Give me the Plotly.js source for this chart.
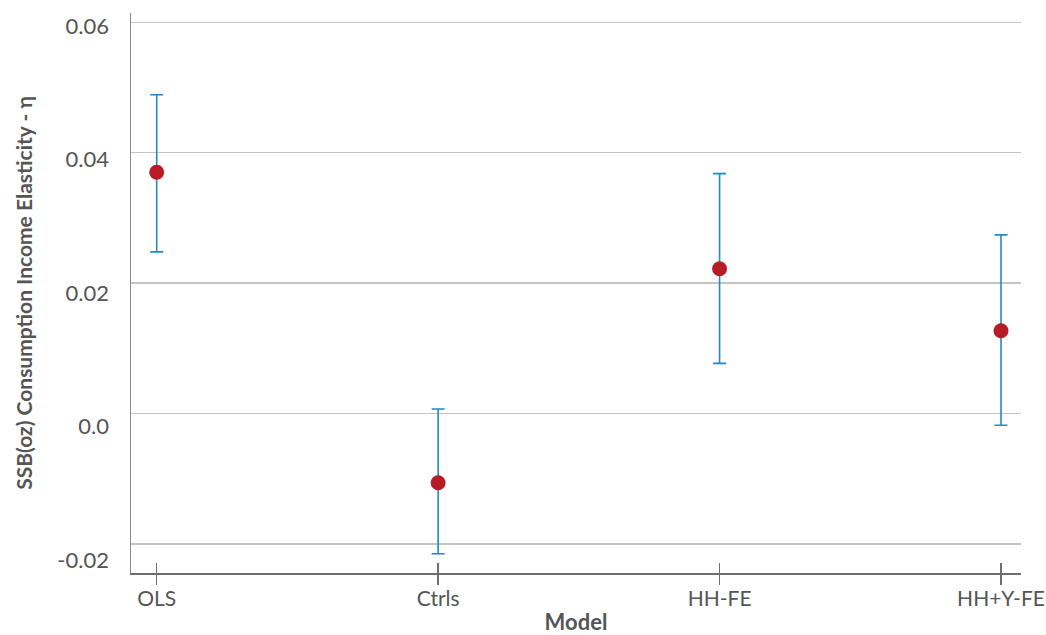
<!DOCTYPE html>
<html>
<head>
<meta charset="utf-8">
<script src="https://cdn.plot.ly/plotly-3.0.1.min.js"></script>
<style>html,body{margin:0;padding:0;background:#fff;}#chart{width:1046px;height:635px;}</style>
</head>
<body>
<div id="chart"></div>
<script>
// Data
const models = ["OLS", "Ctrls", "HH-FE", "HH+Y-FE"];
const estimate = [0.0370, -0.0106, 0.0222, 0.0127];
const upper = [0.0489, 0.0007, 0.0368, 0.0274];
const lower = [0.0248, -0.0215, 0.0077, -0.0018];
const yTickVals = [-0.02, 0.0, 0.02, 0.04, 0.06];
const yTickText = ["-0.02", "0.0", "0.02", "0.04", "0.06"];

const errPlus = upper.map((u, i) => u - estimate[i]);
const errMinus = estimate.map((e, i) => e - lower[i]);

const FONT = "Lato, 'Open Sans', sans-serif";
const TXT = "#555555";

const traces = [
  {
    type: "scatter", mode: "markers",
    x: models, y: estimate,
    marker: {color: "#b71c26", size: 15},
    error_y: {type: "data", symmetric: false, array: errPlus, arrayminus: errMinus,
              color: "#2289c9", thickness: 1.6, width: 6.5},
    hoverinfo: "x+y", showlegend: false
  },
  {
    type: "scatter", mode: "markers",
    x: models, y: estimate, xaxis: "x2", yaxis: "y2",
    marker: {opacity: 0}, hoverinfo: "skip", showlegend: false
  }
];

const xRange = [-0.0913, 3.071];

const layout = {
  width: 1046, height: 635,
  margin: {l: 131, r: 25, t: 13, b: 62},
  paper_bgcolor: "#ffffff", plot_bgcolor: "#ffffff",
  font: {family: FONT, color: TXT, size: 21},
  showlegend: false,
  xaxis: {
    type: "category", range: xRange,
    showgrid: false, zeroline: false,
    showline: true, linecolor: "#6e6e6e", linewidth: 1.5,
    ticks: "outside", ticklen: 10, tickwidth: 1.3, tickcolor: "#6e6e6e",
    ticklabelstandoff: -4,
    tickfont: {family: FONT, size: 21, color: TXT},
    title: {text: "Model", font: {family: FONT, size: 22, color: TXT, weight: "bold"}, standoff: 9}
  },
  xaxis2: {
    type: "category", range: xRange, overlaying: "x", anchor: "y", side: "bottom",
    showgrid: false, zeroline: false, showline: false,
    ticks: "inside", ticklen: 10, tickwidth: 1.3, tickcolor: "#6e6e6e",
    showticklabels: false
  },
  yaxis: {
    range: [-0.02445, 0.06143],
    tickvals: yTickVals, ticktext: yTickText,
    showticklabels: false, ticks: "",
    showgrid: true, gridcolor: "#c4c4c4", gridwidth: 1.5,
    zeroline: false,
    showline: true, linecolor: "#8a8a8a", linewidth: 1.5,
    title: {text: "SSB(oz) Consumption Income Elasticity - η",
            font: {family: FONT, size: 21, color: TXT, weight: "bold"}, standoff: 91}
  },
  yaxis2: {
    range: [-0.02195, 0.06199], overlaying: "y", anchor: "x", side: "left",
    tickvals: yTickVals, ticktext: yTickText,
    showgrid: false, zeroline: false, showline: false, ticks: "",
    ticklabelstandoff: 21,
    tickfont: {family: FONT, size: 22, color: TXT}
  }
};

Plotly.newPlot("chart", traces, layout, {displayModeBar: false, staticPlot: true});
</script>
</body>
</html>
